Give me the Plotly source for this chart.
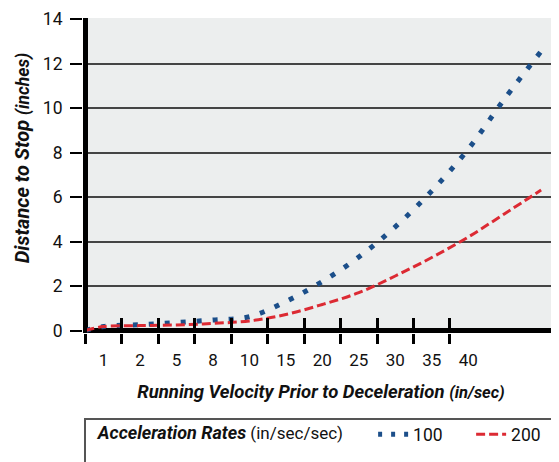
import plotly.graph_objects as go

# ---- data ----
velocity_labels = ["1", "2", "5", "8", "10", "15", "20", "25", "30", "35", "40"]
# category slots: 0 = axis origin, then centres of the 13 velocity categories
category_pos = [0, 0.5, 1.5, 2.5, 3.5, 4.5, 5.5, 6.5, 7.5, 8.5, 9.5, 10.5, 11.5, 12.5]
dist_100 = [0, 0.18, 0.26, 0.36, 0.47, 0.62, 1.3, 2.2, 3.3, 4.66, 6.27, 8.15, 10.42, 12.55]
dist_200 = [0, 0.18, 0.22, 0.25, 0.32, 0.43, 0.72, 1.17, 1.7, 2.45, 3.28, 4.2, 5.25, 6.31]
y_ticks = [0, 2, 4, 6, 8, 10, 12, 14]
boundaries = list(range(0, 11))
label_pos = [b + 0.5 for b in range(0, 11)]

BLUE = "#1c4f8a"
RED = "#dc2a33"
FONT = "Roboto, sans-serif"
NB = "\u00a0"

W, H = 551, 454
L, R, T, B = 75, 0, 10, 129
XR = [-0.063, 12.99]
YR = [-0.1124, 14.045]

fig = go.Figure()
fig.add_trace(go.Scatter(x=category_pos, y=dist_100, mode="lines", showlegend=False,
                         line=dict(color=BLUE, width=5, dash="5px,11px", shape="spline")))
fig.add_trace(go.Scatter(x=category_pos, y=dist_200, mode="lines", showlegend=False,
                         line=dict(color=RED, width=3, dash="9px,4px", shape="spline")))
# legend entries
fig.add_trace(go.Scatter(x=[None], y=[None], mode="lines", name="100",
                         line=dict(color=BLUE, width=5, dash="4px,9px")))
fig.add_trace(go.Scatter(x=[None], y=[None], mode="lines", name="200",
                         line=dict(color=RED, width=3, dash="9px,4px")))
# dummy for overlay axis
fig.add_trace(go.Scatter(x=[None], y=[None], xaxis="x2", showlegend=False, hoverinfo="skip"))

fig.update_layout(
    width=W, height=H,
    margin=dict(l=L, r=R, t=T, b=B, autoexpand=False),
    paper_bgcolor="white",
    plot_bgcolor="#eceeee",
    font=dict(family=FONT, size=17, color="#111"),
    xaxis=dict(range=XR, showgrid=False, zeroline=True, zerolinecolor="black", zerolinewidth=4.5,
               tickmode="array", tickvals=boundaries, ticks="outside", ticklen=10, tickwidth=2.5,
               tickcolor="black", showticklabels=False, showline=False,
               title=dict(text="<b><i>Running Velocity Prior to Deceleration</i></b> "
                                "<b><i><span style='font-size:16.5px'>(in/sec)</span></i></b>",
                          font=dict(size=18.5, color="#111"), standoff=42)),
    xaxis2=dict(range=XR, overlaying="x", anchor="y", side="bottom", showgrid=False, zeroline=False,
                tickmode="array", tickvals=label_pos, ticktext=velocity_labels, ticks="",
                ticklabelstandoff=15,
                tickfont=dict(size=17, color="#111"), showline=False,
                minor=dict(tickmode="array", tickvals=boundaries, ticks="inside", ticklen=15,
                           tickwidth=2.5, tickcolor="black", showgrid=False)),
    yaxis=dict(range=YR, tickmode="array", tickvals=y_ticks, ticks="outside", ticklen=12, tickwidth=2,
               tickcolor="black", showgrid=True, gridcolor="#444", gridwidth=1.5,
               zeroline=True, zerolinecolor="black", zerolinewidth=5, showline=False,
               ticklabelstandoff=4,
               tickfont=dict(size=17.5, color="#111")),
    annotations=[dict(text="<b><i>Distance to Stop</i></b> "
                           "<b><i><span style='font-size:17.5px'>(inches)</span></i></b>",
                      textangle=-90, xref="paper", yref="paper", x=-0.128, y=0.555,
                      xanchor="center", yanchor="middle", showarrow=False,
                      font=dict(size=20, color="#111"))],
    legend=dict(orientation="h", x=0.027, y=-0.322, xanchor="left", yanchor="middle",
                bgcolor="rgba(0,0,0,0)", borderwidth=0, font=dict(size=17.5, color="#111"),
                entrywidth=53, entrywidthmode="pixels",
                title=dict(text="<b><i><span style='font-size:18px'>Acceleration Rates</span></i></b> (in/sec/sec)" + NB * 5,
                           side="left", font=dict(size=17, color="#111"))),
    shapes=[dict(type="rect", xref="paper", yref="paper", x0=0.0042, x1=1.05, y0=-0.45, y1=-0.273,
                 line=dict(color="#555", width=2), fillcolor="rgba(0,0,0,0)", layer="above")],
    showlegend=True,
)

fig.write_html("out.html")
